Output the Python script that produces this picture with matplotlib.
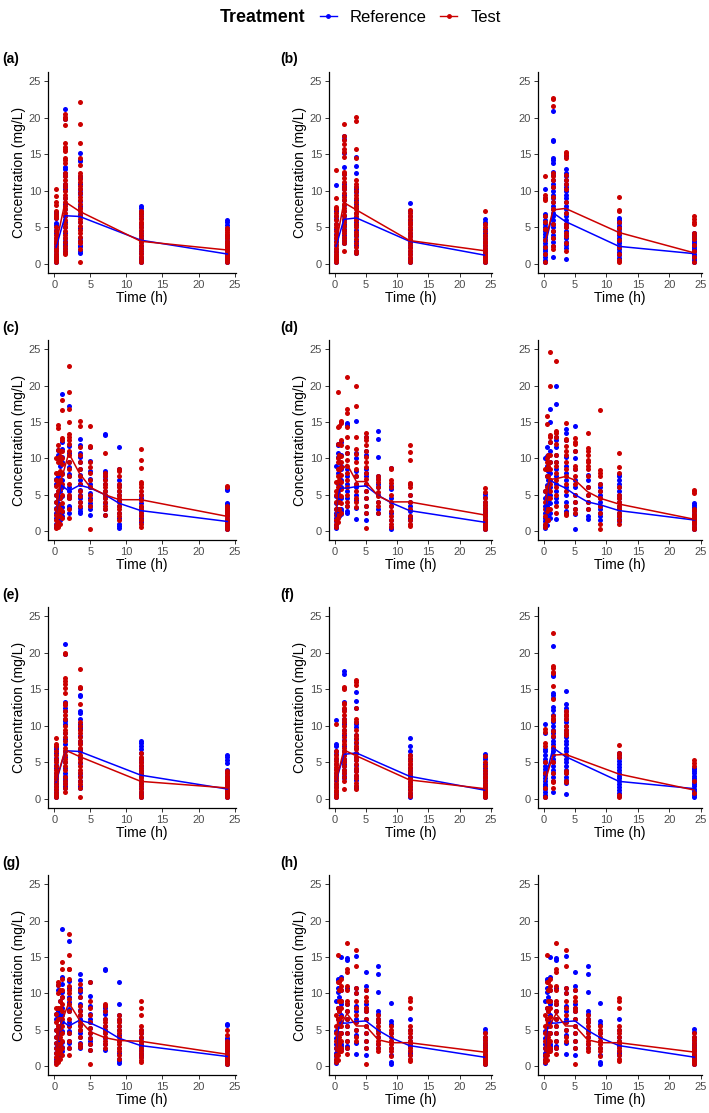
import matplotlib
matplotlib.use('Agg')
import matplotlib.pyplot as plt
from matplotlib.lines import Line2D

plt.rcParams['font.family'] = ['Liberation Sans', 'DejaVu Sans']

BLUE = '#0000ff'
RED = '#cc0000'
W, H = 709, 1113

# sampling times (h)
times_short = [0.25, 1.5, 3.5, 12, 24]
times_long = [0.25, 0.5, 0.75, 1, 2, 3.5, 5, 7, 9, 12, 24]

# ---- reference data sets (one list per sampling time) ----
r1_pts = [
    [0.3, 0.6, 1.0, 1.4, 1.8, 2.2, 2.7, 3.1, 3.6, 4.2, 4.7, 5.3, 5.6, 6.3, 6.8, 7.1],
    [1.5, 1.8, 2.2, 2.6, 2.9, 3.2, 3.5, 4.2, 5.0, 5.8, 6.5, 7.5, 8.2, 9.0, 10.3, 10.7, 11.0, 12.0, 12.5, 13.0, 13.3, 19.8, 21.2],
    [1.5, 1.7, 2.4, 2.5, 3.2, 3.6, 4.9, 5.7, 6.5, 6.8, 7.7, 7.9, 8.6, 9.6, 9.8, 10.2, 11.0, 11.8, 12.1, 14.1, 14.3, 15.2],
    [0.2, 0.5, 0.8, 1.0, 1.5, 2.0, 2.5, 3.0, 3.5, 4.0, 4.5, 5.0, 5.5, 6.3, 6.9, 7.3, 7.6, 7.9],
    [0.2, 0.5, 0.8, 1.1, 1.4, 1.7, 2.0, 2.4, 2.8, 3.2, 3.5, 3.9, 4.9, 5.3, 5.8, 6.0],
]
r1_mean = [2.3, 6.6, 6.5, 3.25, 1.35]

r2_pts = [
    [0.3, 0.7, 1.1, 1.6, 2.1, 2.6, 3.1, 3.5, 4.1, 4.8, 5.5, 6.1, 6.6, 7.2, 7.5, 10.8],
    [2.8, 3.1, 3.5, 4.0, 4.5, 4.8, 5.2, 5.5, 6.0, 6.5, 7.2, 8.1, 8.8, 9.5, 10.2, 10.5, 11.0, 12.3, 13.3, 15.2, 17.1, 17.5],
    [1.5, 1.8, 2.6, 3.2, 3.8, 4.1, 4.6, 5.3, 5.8, 6.3, 7.0, 7.6, 8.2, 8.8, 9.8, 10.2, 10.5, 12.5, 13.4, 14.6],
    [0.2, 0.5, 0.8, 1.3, 1.8, 2.3, 2.8, 3.3, 3.8, 4.3, 4.8, 5.4, 6.0, 6.6, 7.3, 8.4],
    [0.2, 0.4, 0.7, 1.0, 1.3, 1.6, 1.9, 2.2, 2.6, 3.0, 3.4, 3.8, 4.3, 4.8, 5.4, 5.7, 6.2],
]
r2_mean = [2.4, 6.1, 6.3, 3.1, 1.2]

r3_pts = [
    [0.3, 0.6, 0.9, 1.3, 1.7, 2.1, 2.5, 2.9, 3.3, 3.7, 4.1, 4.5, 5.0, 5.5, 6.0, 6.5, 6.9, 9.0, 10.3],
    [1.0, 2.5, 3.0, 3.5, 4.0, 4.5, 5.0, 5.5, 6.0, 6.5, 7.0, 7.5, 8.0, 8.5, 9.0, 9.5, 10.0, 10.5, 11.0, 11.5, 12.2, 12.6, 13.8, 14.2, 14.5, 16.8, 17.0, 21.0],
    [0.7, 2.2, 2.6, 3.0, 3.5, 4.0, 4.5, 5.0, 5.5, 6.0, 6.5, 7.0, 7.5, 8.0, 8.5, 9.0, 9.5, 10.0, 10.5, 11.0, 11.5, 12.0, 12.5, 13.0, 14.8],
    [0.4, 0.8, 1.2, 1.6, 2.0, 2.4, 2.8, 3.2, 3.6, 4.0, 4.4, 4.8, 5.2, 5.6, 6.0, 6.3],
    [0.2, 0.5, 0.8, 1.1, 1.4, 1.7, 2.0, 2.3, 2.6, 2.9, 3.2, 3.5, 3.8, 4.1, 4.3],
]
r3_mean = [2.6, 7.0, 5.8, 2.4, 1.4]

r4_pts = [
    [0.5, 1.0, 1.8, 2.5, 3.2, 4.0, 5.0, 6.5, 7.2],
    [0.8, 1.5, 2.2, 3.0, 3.8, 4.6, 5.5, 6.8, 7.5, 10.5, 11.2],
    [1.5, 2.5, 3.5, 4.5, 5.5, 7.0, 9.0, 10.2],
    [2.0, 2.6, 3.3, 4.8, 6.0, 7.0, 8.0, 9.5, 10.2, 11.3, 12.3, 18.8],
    [2.5, 3.2, 3.5, 4.5, 4.8, 5.5, 6.0, 7.5, 7.8, 8.8, 9.5, 10.8, 11.7, 17.2],
    [2.5, 2.8, 3.2, 4.0, 4.5, 5.0, 5.6, 6.5, 7.0, 7.7, 8.5, 9.5, 10.2, 10.7, 11.8, 12.6],
    [2.2, 3.0, 3.5, 3.8, 4.5, 5.2, 6.0, 6.5, 7.2, 8.3, 9.6, 11.5],
    [2.2, 3.0, 3.8, 4.5, 5.0, 5.5, 6.5, 7.2, 7.6, 8.0, 8.3, 13.2, 13.4],
    [0.4, 0.7, 1.0, 1.8, 2.5, 3.5, 4.2, 5.0, 5.5, 6.3, 7.0, 8.5, 11.6],
    [1.2, 1.5, 1.8, 2.2, 2.7, 3.3, 3.8, 4.5, 5.0],
    [0.2, 0.5, 0.8, 1.1, 1.4, 1.7, 2.0, 2.3, 2.6, 2.9, 3.2, 3.5, 3.7, 3.9, 5.6, 5.8],
]
r4_mean = [2.5, 3.8, 5.2, 6.3, 5.5, 6.3, 5.9, 5.0, 3.8, 2.8, 1.3]

r5_pts = [
    [0.4, 0.8, 1.3, 1.8, 2.5, 3.0, 3.8, 4.8, 8.9],
    [2.5, 3.0, 4.0, 5.5, 6.5, 8.0, 10.2, 10.8, 11.8, 12.0],
    [2.0, 3.0, 4.5, 6.0, 7.5, 9.5, 10.5],
    [2.3, 2.8, 3.0, 4.5, 6.0, 7.0, 8.5, 9.0, 10.5, 12.2, 15.0],
    [2.5, 2.8, 3.5, 4.5, 5.5, 6.5, 7.5, 8.5, 10.8, 14.6, 14.8],
    [1.7, 3.2, 4.2, 5.0, 6.0, 6.5, 7.5, 8.3, 10.0, 10.8, 15.1],
    [1.5, 2.5, 3.5, 4.5, 5.5, 6.5, 7.5, 8.0, 8.5, 10.5, 11.0, 13.0],
    [2.5, 3.0, 4.0, 5.0, 6.0, 6.5, 7.2, 7.5, 10.2, 12.7, 13.8],
    [0.3, 0.6, 1.5, 2.5, 3.5, 4.5, 5.8, 6.2, 8.6],
    [1.5, 1.8, 2.0, 2.8, 3.5, 4.0, 5.0, 6.5],
    [0.2, 0.5, 0.8, 1.1, 1.4, 1.7, 2.0, 2.3, 2.6, 2.9, 3.2, 3.6, 4.0, 4.7, 5.1],
]
r5_mean = [2.0, 4.5, 5.5, 5.9, 5.9, 6.1, 6.2, 4.9, 3.9, 2.8, 1.2]

r6_pts = [
    [0.4, 0.8, 1.3, 1.8, 2.5, 3.5, 4.5, 5.5, 10.0],
    [0.8, 2.0, 3.5, 5.0, 6.3, 7.5, 9.0, 10.3, 11.6],
    [1.5, 2.8, 4.0, 5.5, 7.0, 8.2, 10.5],
    [1.8, 2.5, 3.8, 5.0, 6.0, 7.0, 8.0, 9.5, 11.0, 12.3, 15.0, 16.8],
    [1.6, 4.0, 4.5, 5.5, 6.5, 7.5, 8.5, 9.5, 10.5, 11.5, 12.5, 13.0, 17.5, 19.9],
    [2.4, 2.8, 3.5, 4.0, 5.0, 6.0, 7.0, 8.0, 9.0, 10.2, 12.5, 13.5, 14.0],
    [0.2, 2.3, 3.0, 4.0, 5.0, 6.0, 7.0, 8.5, 10.0, 11.0, 14.4],
    [1.7, 2.0, 3.0, 4.0, 5.0, 6.0, 7.0, 7.7],
    [1.5, 2.0, 2.5, 3.0, 3.5, 4.0, 4.5, 5.0, 5.5, 6.0, 6.5],
    [1.3, 1.6, 2.0, 2.5, 3.0, 3.5, 4.0, 4.5, 5.0, 5.5, 6.0, 6.5, 7.0, 7.5, 7.9],
    [0.3, 0.6, 0.9, 1.2, 1.5, 1.8, 2.1, 2.4, 2.7, 3.0, 3.3, 3.6, 3.9],
]
r6_mean = [2.8, 4.5, 6.0, 7.0, 6.5, 5.9, 5.0, 4.0, 3.6, 2.8, 1.5]

# ---- test data sets ----
test_a = [
    [0.3, 0.5, 0.8, 1.1, 1.4, 1.7, 2.0, 2.4, 2.8, 3.2, 3.6, 4.0, 4.5, 5.0, 6.3, 6.6, 6.9, 7.2, 8.1, 8.5, 9.3, 10.3],
    [1.3, 1.6, 2.0, 2.5, 3.0, 3.5, 4.0, 4.5, 5.0, 5.5, 6.0, 6.5, 7.0, 7.5, 8.0, 8.5, 9.0, 9.5, 10.0, 10.5, 11.0, 11.5, 12.0, 12.5, 13.8, 14.2, 14.5, 15.5, 15.8, 16.0, 16.5, 19.0, 19.8, 20.2, 20.5],
    [0.3, 2.0, 2.8, 3.2, 3.7, 4.2, 4.7, 5.2, 5.7, 6.2, 6.7, 7.2, 7.7, 8.2, 8.7, 9.2, 9.7, 10.2, 10.7, 11.2, 11.7, 12.1, 12.5, 13.5, 14.5, 16.5, 19.2, 22.2],
    [0.3, 0.6, 1.0, 1.4, 1.8, 2.2, 2.6, 3.0, 3.4, 3.8, 4.2, 4.6, 5.0, 5.4, 5.8, 6.2, 6.6, 7.0, 7.3],
    [0.2, 0.5, 0.8, 1.1, 1.4, 1.7, 2.0, 2.3, 2.6, 2.9, 3.2, 3.5, 3.8, 4.1, 4.4, 4.7, 4.9],
]
test_a_mean = [2.8, 8.5, 7.2, 3.1, 1.9]

test_bl = [
    [0.3, 0.5, 0.8, 1.1, 1.4, 1.8, 2.2, 2.6, 3.0, 3.5, 4.0, 4.5, 5.0, 5.5, 6.0, 6.5, 7.0, 7.5, 7.8, 9.0, 12.8],
    [1.7, 2.9, 3.3, 3.7, 4.2, 4.7, 5.2, 5.7, 6.2, 6.7, 7.2, 7.7, 8.2, 8.7, 9.2, 9.7, 10.2, 10.7, 11.2, 11.8, 12.3, 12.6, 14.6, 15.4, 15.8, 16.4, 17.0, 17.5, 19.2],
    [1.5, 1.8, 2.3, 2.8, 3.4, 3.9, 4.4, 5.0, 5.5, 6.0, 6.5, 7.0, 7.5, 8.0, 8.5, 9.0, 9.5, 10.0, 10.5, 11.0, 11.5, 14.5, 15.8, 19.6, 20.2],
    [0.3, 0.6, 1.0, 1.4, 1.8, 2.2, 2.6, 3.0, 3.4, 3.8, 4.2, 4.6, 5.0, 5.4, 5.8, 6.2, 6.6, 7.0, 7.4],
    [0.2, 0.5, 0.8, 1.1, 1.4, 1.7, 2.0, 2.4, 2.8, 3.2, 3.6, 4.0, 4.5, 5.0, 5.5, 7.2],
]
test_bl_mean = [2.8, 8.4, 7.4, 3.2, 1.8]

test_br = [
    [0.3, 1.3, 2.3, 3.3, 4.8, 5.8, 6.5, 8.8, 9.0, 9.5, 12.0],
    [2.0, 2.5, 3.5, 4.5, 5.5, 7.5, 8.5, 9.2, 10.5, 11.5, 12.0, 12.5, 21.7, 22.6, 22.8],
    [1.8, 2.8, 3.8, 4.3, 5.0, 5.5, 7.0, 8.5, 10.2, 11.0, 11.5, 12.2, 14.5, 14.9, 15.2, 15.4],
    [0.2, 0.5, 1.3, 2.3, 3.3, 4.3, 4.9, 5.8, 7.3, 7.4, 9.2],
    [0.3, 1.0, 1.8, 2.6, 3.4, 3.8, 4.3, 5.4, 5.8, 6.2, 6.6],
]
test_br_mean = [3.0, 7.4, 7.6, 4.3, 1.5]

test_c = [
    [0.4, 0.8, 1.5, 2.2, 3.0, 4.0, 5.0, 6.2, 7.0, 8.0, 10.0],
    [0.6, 1.2, 2.0, 2.8, 3.6, 4.5, 5.5, 6.5, 8.0, 9.5, 10.0, 11.2, 11.8, 14.2, 14.6],
    [1.0, 2.0, 3.0, 4.5, 5.8, 7.0, 8.2, 9.6, 10.3, 11.0],
    [1.8, 2.8, 3.8, 5.0, 6.5, 7.8, 9.2, 10.0, 11.0, 12.5, 12.8, 16.6, 18.0],
    [1.8, 3.0, 4.5, 5.0, 6.5, 7.5, 8.5, 9.5, 10.5, 11.0, 12.0, 12.5, 13.0, 13.3, 15.0, 16.8, 19.2, 22.7],
    [3.5, 4.0, 4.8, 5.5, 6.5, 7.5, 8.5, 9.5, 10.5, 11.5, 14.5, 15.1],
    [0.2, 3.5, 4.2, 5.0, 6.0, 7.0, 8.0, 8.8, 9.5, 11.5, 11.7, 14.5],
    [2.2, 3.0, 3.5, 4.0, 4.5, 5.0, 5.5, 6.0, 6.5, 7.0, 7.5, 8.0, 10.7],
    [1.5, 2.0, 2.5, 3.0, 3.5, 4.0, 4.5, 5.0, 5.5, 6.0, 6.5, 7.5, 8.3, 8.5],
    [0.6, 1.0, 1.5, 2.0, 2.5, 3.0, 3.5, 4.3, 5.0, 5.5, 6.0, 6.5, 6.8, 8.6, 9.8, 11.3],
    [0.2, 0.5, 0.8, 1.1, 1.4, 1.7, 2.0, 2.3, 2.6, 2.9, 3.2, 3.5, 6.0, 6.2],
]
test_c_mean = [2.5, 4.5, 6.0, 7.2, 10.7, 7.9, 6.0, 5.0, 4.3, 4.3, 2.0]

test_dl = [
    [0.5, 1.0, 1.5, 2.2, 3.0, 4.0, 5.0, 5.5, 6.7],
    [1.2, 1.8, 3.0, 4.0, 5.0, 6.0, 7.5, 8.5, 9.5, 10.0, 12.0, 14.3, 19.1],
    [2.2, 3.0, 4.0, 5.0, 6.0, 7.0, 8.5, 10.5, 14.5],
    [2.5, 3.8, 4.8, 5.8, 6.8, 7.7, 8.8, 9.5, 10.3, 11.8, 12.5, 14.8, 15.2],
    [3.5, 4.0, 5.0, 6.0, 7.0, 8.0, 9.0, 9.8, 10.8, 11.5, 12.9, 14.3, 16.3, 16.8, 21.2],
    [3.3, 4.0, 4.5, 5.5, 6.5, 7.5, 8.5, 9.5, 10.6, 11.3, 13.0, 17.2, 20.0],
    [0.4, 2.5, 3.5, 4.5, 5.5, 6.5, 7.2, 8.0, 8.8, 9.5, 10.2, 11.0, 11.8, 12.5, 13.0, 13.5],
    [2.5, 3.5, 4.0, 4.8, 5.3, 6.0, 6.8, 7.2, 7.6],
    [0.6, 1.0, 1.5, 2.0, 2.8, 3.5, 4.0, 5.0, 6.0, 6.6, 7.0, 8.5, 8.7],
    [0.7, 1.0, 1.5, 2.0, 3.0, 4.0, 5.0, 6.0, 6.4, 6.6, 9.8, 10.9, 11.8],
    [0.2, 0.5, 0.8, 1.1, 1.4, 1.7, 2.0, 2.4, 2.8, 3.2, 3.6, 4.0, 4.5, 5.3, 5.9],
]
test_dl_mean = [2.5, 5.5, 7.0, 8.2, 9.2, 6.8, 6.8, 4.8, 4.0, 4.0, 2.2]

test_dr = [
    [0.6, 1.0, 2.0, 3.0, 4.0, 5.5, 8.5],
    [1.5, 2.8, 4.5, 6.0, 7.5, 8.5, 9.5, 10.0, 14.7, 15.8],
    [1.5, 3.0, 4.5, 6.0, 7.5, 9.0, 10.5],
    [3.0, 4.5, 5.5, 6.5, 7.0, 8.5, 9.5, 10.5, 12.3, 13.0, 13.2, 20.0, 24.6],
    [2.5, 3.5, 5.0, 6.0, 7.0, 8.0, 9.0, 9.5, 10.5, 12.0, 13.0, 13.5, 13.7, 23.4],
    [2.2, 2.5, 3.5, 5.5, 6.5, 7.5, 8.5, 9.5, 10.5, 11.0, 11.7, 12.5, 12.7, 14.8],
    [2.5, 3.0, 4.0, 5.0, 6.5, 7.5, 8.5, 9.0, 11.0, 12.0, 12.2, 12.8],
    [3.0, 4.0, 5.0, 6.0, 7.5, 8.5, 9.0, 9.5, 9.8, 10.5, 11.0, 11.4, 13.5],
    [0.3, 1.0, 2.5, 3.5, 4.5, 5.5, 6.5, 7.5, 8.0, 8.4, 16.7],
    [1.0, 1.5, 2.0, 2.5, 3.0, 3.5, 4.0, 4.5, 5.0, 6.0, 8.0, 8.8, 10.8],
    [0.3, 0.6, 0.9, 1.2, 1.5, 1.8, 2.1, 2.4, 2.7, 3.0, 5.2, 5.5, 5.7],
]
test_dr_mean = [3.8, 5.0, 6.5, 7.1, 7.2, 7.5, 7.0, 5.4, 4.5, 3.7, 1.6]

test_e = [
    [0.2, 0.5, 0.8, 1.2, 1.6, 2.0, 2.4, 2.8, 3.2, 3.6, 4.0, 4.5, 5.0, 5.5, 6.0, 6.5, 7.2, 7.5, 8.3],
    [1.0, 1.5, 2.0, 2.5, 3.0, 4.0, 4.5, 5.0, 5.5, 6.0, 6.5, 7.0, 8.0, 8.5, 9.0, 9.5, 10.0, 11.0, 11.5, 12.0, 12.8, 13.2, 14.5, 15.2, 15.8, 16.2, 16.5, 19.8, 20.0],
    [0.3, 1.5, 2.0, 2.5, 3.0, 3.5, 4.0, 4.5, 5.0, 5.5, 6.0, 6.5, 7.0, 7.5, 8.0, 8.5, 9.0, 9.5, 10.0, 10.5, 13.0, 15.2, 15.4, 17.8],
    [0.3, 0.6, 1.0, 1.4, 1.8, 2.2, 2.6, 3.0, 3.4, 3.8, 4.2, 4.6, 5.0, 5.4, 5.8, 6.3],
    [0.2, 0.5, 0.8, 1.1, 1.4, 1.7, 2.0, 2.3, 2.6, 2.9, 3.2, 3.5, 3.8],
]
test_e_mean = [2.5, 6.7, 5.8, 2.4, 1.5]

test_fl = [
    [0.3, 0.6, 0.9, 1.2, 1.6, 2.0, 2.4, 2.8, 3.2, 3.6, 4.0, 4.4, 4.8, 5.2, 5.6, 6.0, 6.5, 10.2],
    [1.4, 2.5, 3.0, 3.5, 4.0, 4.5, 5.0, 5.5, 6.0, 6.5, 7.0, 7.5, 8.0, 8.5, 9.0, 9.5, 10.0, 10.5, 11.0, 11.5, 12.0, 12.5, 13.0, 13.2, 15.0, 15.4],
    [1.4, 1.8, 2.2, 2.8, 3.3, 3.8, 4.3, 4.8, 5.3, 5.8, 6.3, 6.8, 7.3, 7.8, 8.3, 8.8, 9.5, 10.5, 11.0, 12.5, 15.6, 16.0, 16.3],
    [0.4, 0.8, 1.2, 1.6, 2.0, 2.4, 2.8, 3.2, 3.6, 4.0, 4.4, 4.8, 5.2, 5.6, 6.0],
    [0.2, 0.5, 0.8, 1.1, 1.4, 1.7, 2.0, 2.4, 2.8, 3.2, 3.6, 4.0, 4.5, 5.0, 5.9],
]
test_fl_mean = [2.5, 6.7, 5.9, 2.6, 1.4]

test_fr = [
    [0.3, 1.5, 3.5, 5.0, 7.3, 7.7, 9.2, 9.6],
    [1.5, 2.3, 2.5, 3.5, 5.0, 7.1, 8.6, 9.3, 10.8, 11.0, 11.4, 13.7, 15.5, 17.2, 17.4, 18.0, 18.2, 22.7],
    [2.3, 2.5, 3.5, 3.8, 6.0, 8.8, 9.0, 9.5, 10.0, 11.0, 11.3, 11.7, 12.0],
    [0.2, 0.5, 5.8, 6.1, 6.3, 7.4],
    [0.8, 2.5, 4.5, 4.9, 5.3],
]
test_fr_mean = [2.4, 6.0, 6.1, 3.4, 1.2]

test_g = [
    [0.3, 0.7, 1.2, 1.8, 2.5, 3.2, 4.0, 5.0, 6.0, 7.2, 8.0],
    [0.5, 1.0, 1.6, 2.3, 3.0, 3.8, 4.6, 5.5, 6.5, 8.0, 10.0, 11.2, 11.6],
    [1.0, 2.0, 3.0, 4.0, 5.2, 6.5, 8.0, 9.0, 10.5],
    [1.5, 2.5, 3.5, 4.5, 5.5, 6.5, 7.5, 8.5, 9.5, 10.5, 12.0, 13.3, 14.3],
    [1.5, 2.5, 3.5, 4.5, 5.5, 6.5, 7.5, 8.5, 9.2, 10.0, 10.5, 11.0, 12.0, 13.3, 13.4, 15.3, 18.2],
    [2.6, 3.0, 4.0, 5.0, 5.5, 6.0, 7.0, 7.5, 8.3, 9.5, 10.5, 11.3],
    [0.2, 2.2, 3.0, 3.8, 4.5, 5.2, 6.0, 7.0, 8.0, 9.0, 11.6],
    [2.5, 3.0, 3.5, 4.0, 4.5, 5.0, 5.5, 6.0, 6.5, 7.5, 8.2, 8.5],
    [1.0, 1.5, 2.0, 2.5, 3.0, 3.5, 4.0, 4.5, 5.0, 5.5, 6.0, 6.5, 7.0],
    [0.5, 0.8, 1.2, 1.6, 2.0, 2.5, 3.0, 3.5, 4.0, 4.5, 5.0, 5.5, 7.0, 8.0, 9.0],
    [0.2, 0.5, 0.8, 1.1, 1.4, 1.7, 2.0, 2.3, 2.6, 2.9, 3.2, 3.5, 4.2, 5.0],
]
test_g_mean = [2.3, 4.0, 5.5, 6.0, 8.7, 6.3, 4.7, 3.9, 3.5, 3.4, 1.6]

test_h = [
    [0.5, 1.0, 1.5, 2.5, 3.5, 4.5, 5.5, 7.0],
    [0.8, 1.5, 2.5, 3.5, 4.5, 5.5, 6.5, 8.0, 11.5, 15.3],
    [2.0, 3.0, 4.0, 5.5, 6.5, 7.5, 9.0, 10.5, 11.5],
    [2.0, 2.5, 3.5, 4.5, 5.5, 6.8, 8.0, 9.0, 10.5, 11.0, 12.0],
    [1.7, 2.5, 3.5, 4.5, 5.5, 6.5, 7.5, 8.5, 9.0, 10.5, 11.0, 13.0, 13.3, 17.0],
    [3.5, 4.0, 5.0, 6.0, 7.0, 8.0, 9.0, 10.0, 10.8, 13.7, 16.0],
    [0.3, 2.5, 3.5, 4.5, 5.5, 6.5, 7.5, 8.0, 9.0, 9.5, 10.5],
    [2.0, 2.5, 3.0, 3.5, 4.0, 4.5, 5.0, 5.5, 6.0, 6.5, 7.0],
    [1.3, 2.0, 2.5, 3.0, 3.5, 4.0, 4.5, 5.0, 5.5],
    [0.7, 1.0, 1.5, 2.0, 2.5, 3.0, 3.5, 4.0, 4.5, 5.0, 5.5, 8.0, 9.0, 9.4],
    [0.2, 0.5, 0.8, 1.1, 1.4, 1.7, 2.0, 2.4, 2.8, 3.2, 3.6, 4.0, 4.5],
]
test_h_mean = [2.0, 6.3, 5.5, 5.6, 7.2, 5.5, 5.5, 3.6, 3.2, 3.2, 1.9]

# panel grid in pixels
cols = [(48, 236), (329, 492), (538, 702)]
rows = [(72, 273), (340, 540), (607, 808), (875, 1075)]
row_labels = [('(a)', '(b)'), ('(c)', '(d)'), ('(e)', '(f)'), ('(g)', '(h)')]

panels = [
    [(times_short, r1_pts, test_a, r1_mean, test_a_mean),
     (times_short, r2_pts, test_bl, r2_mean, test_bl_mean),
     (times_short, r3_pts, test_br, r3_mean, test_br_mean)],
    [(times_long, r4_pts, test_c, r4_mean, test_c_mean),
     (times_long, r5_pts, test_dl, r5_mean, test_dl_mean),
     (times_long, r6_pts, test_dr, r6_mean, test_dr_mean)],
    [(times_short, r1_pts, test_e, r1_mean, test_e_mean),
     (times_short, r2_pts, test_fl, r2_mean, test_fl_mean),
     (times_short, r3_pts, test_fr, r3_mean, test_fr_mean)],
    [(times_long, r4_pts, test_g, r4_mean, test_g_mean),
     (times_long, r5_pts, test_h, r5_mean, test_h_mean),
     (times_long, r5_pts, test_h, r5_mean, test_h_mean)],
]


def draw_panel(ax, times, ref_pts, test_pts, ref_mean, test_mean):
    for pts, color in ((ref_pts, BLUE), (test_pts, RED)):
        xs = [t for t, vals in zip(times, pts) for _ in vals]
        ys = [v for vals in pts for v in vals]
        ax.scatter(xs, ys, s=13, color=color, linewidths=0, zorder=2)
    ax.plot(times, ref_mean, color=BLUE, lw=1.1, zorder=3)
    ax.plot(times, test_mean, color=RED, lw=1.1, zorder=3)

    ax.set_xlim(-0.88, 25.2)
    ax.set_ylim(-1.25, 26.3)
    ax.set_xticks(range(0, 26, 5))
    ax.set_yticks(range(0, 26, 5))
    for side in ('top', 'right'):
        ax.spines[side].set_visible(False)
    for side in ('left', 'bottom'):
        ax.spines[side].set_linewidth(0.9)
        ax.spines[side].set_color('black')
    ax.tick_params(length=3, width=0.7, color='#333333', labelsize=8,
                   labelcolor='#4d4d4d', pad=2)


fig = plt.figure(figsize=(W / 100, H / 100), dpi=100)

for r, (top, bottom) in enumerate(rows):
    for c, (left, right) in enumerate(cols):
        ax = fig.add_axes([left / W, 1 - bottom / H, (right - left) / W, (bottom - top) / H])
        draw_panel(ax, *panels[r][c])
        # x axis title
        fig.text((left + right) / 2 / W, 1 - (bottom + 25) / H, 'Time (h)',
                 ha='center', va='center', fontsize=10)
        if c < 2:
            fig.text([19, 300][c] / W, 1 - (top + bottom) / 2 / H, 'Concentration (mg/L)',
                     rotation=90, ha='center', va='center', fontsize=10)
            fig.text([2, 280][c] / W, 1 - (top - 12.5) / H, row_labels[r][c],
                     ha='left', va='center', fontsize=10, fontweight='bold')

# legend on top
fig.text(220 / W, 1 - 17 / H, 'Treatment', ha='left', va='center',
         fontsize=12.8, fontweight='bold')
handles = [Line2D([], [], color=BLUE, marker='o', markersize=2.5, lw=1.0),
           Line2D([], [], color=RED, marker='o', markersize=2.5, lw=1.0)]
fig.legend(handles, ['Reference', 'Test'], loc='center left',
           bbox_to_anchor=(320 / W, 1 - 17 / H), ncol=2, frameon=False,
           fontsize=12, handlelength=1.0, handletextpad=0.8, columnspacing=0.8,
           borderpad=0, borderaxespad=0)

fig.savefig('out.png', dpi=100)
